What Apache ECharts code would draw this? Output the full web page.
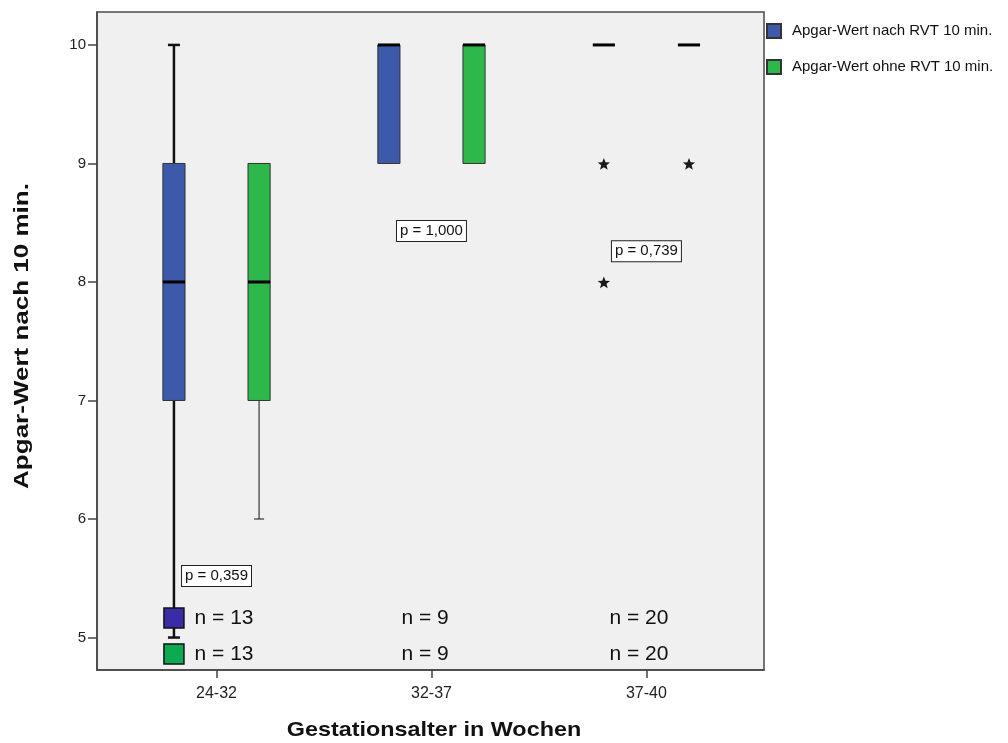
<!DOCTYPE html>
<html>
<head>
<meta charset="utf-8">
<script src="https://cdn.jsdelivr.net/npm/echarts@6/dist/echarts.min.js"></script>
<style>
  html, body { margin: 0; padding: 0; background: #ffffff; }
  #chart { width: 1008px; height: 743px; }
</style>
</head>
<body>
<div id="chart"></div>
<script>
// Gestational age groups
const categories = ['24-32', '32-37', '37-40'];

// Box statistics per group: [min, Q1, median, Q3, max]
const nachStats = [
  [5, 7, 8, 9, 10],
  [9, 9, 10, 10, 10],
  [10, 10, 10, 10, 10]
];
const ohneStats = [
  [6, 7, 8, 9, 9],
  [9, 9, 10, 10, 10],
  [10, 10, 10, 10, 10]
];

// Extreme values (group index, value)
const nachExtremes = [[2, 9], [2, 8]];
const ohneExtremes = [[2, 9]];

// Sample sizes per group and test results
const nCounts = [13, 9, 20];
const pTexts = ['p = 0,359', 'p = 1,000', 'p = 0,739'];

const seriesNames = ['Apgar-Wert nach RVT 10 min.', 'Apgar-Wert ohne RVT 10 min.'];
const yTicks = [5, 6, 7, 8, 9, 10];
const xTitle = 'Gestationsalter in Wochen';
const yTitle = 'Apgar-Wert nach 10 min.';

// ---- layout / style ----
const FONT = "'Liberation Sans', Arial, Helvetica, sans-serif";
const BLUE = '#3D59A9';
const GREEN = '#2EB84B';
const OFFSET = 0.198;      // half distance between paired boxes (axis units)
const BOX_W = 0.103;       // box width (axis units)
const P_LEVEL = [5.52, 8.43, 8.26];       // vertical anchor of the p boxes
const N_ROWS = [5.165, 4.862];            // vertical anchor of the two n rows
const N_SHIFT = [-22, -30, -37];          // px shift of n text start from group centre

function boxRenderer(offset, color, whiskerWidth, capHalf) {
  return function (params, api) {
    const c = api.value(0) + offset;
    const mn = api.value(1), q1 = api.value(2), med = api.value(3), q3 = api.value(4), mx = api.value(5);
    const half = api.size([BOX_W, 0])[0] / 2;
    const x = api.coord([c, med])[0];
    const y = v => api.coord([c, v])[1];
    const kids = [];
    const wStyle = { stroke: '#111', lineWidth: whiskerWidth };
    if (mx > q3) {
      kids.push({ type: 'line', shape: { x1: x, y1: y(q3), x2: x, y2: y(mx) }, style: wStyle });
      kids.push({ type: 'line', shape: { x1: x - capHalf, y1: y(mx), x2: x + capHalf, y2: y(mx) }, style: wStyle });
    }
    if (mn < q1) {
      kids.push({ type: 'line', shape: { x1: x, y1: y(q1), x2: x, y2: y(mn) }, style: wStyle });
      kids.push({ type: 'line', shape: { x1: x - capHalf, y1: y(mn), x2: x + capHalf, y2: y(mn) }, style: wStyle });
    }
    if (q3 > q1) {
      kids.push({
        type: 'rect',
        shape: { x: x - half, y: y(q3), width: half * 2, height: y(q1) - y(q3) },
        style: { fill: color, stroke: '#333', lineWidth: 1 }
      });
    }
    kids.push({
      type: 'line',
      shape: { x1: x - half, y1: y(med), x2: x + half, y2: y(med) },
      style: { stroke: '#000', lineWidth: 3 }
    });
    return { type: 'group', children: kids };
  };
}

function starPoints(cx, cy, ro, ri) {
  const pts = [];
  for (let k = 0; k < 10; k++) {
    const r = k % 2 === 0 ? ro : ri;
    const a = -Math.PI / 2 + k * Math.PI / 5;
    pts.push([cx + r * Math.cos(a), cy + r * Math.sin(a)]);
  }
  return pts;
}

function extremeRenderer(offset) {
  return function (params, api) {
    const p = api.coord([api.value(0) + offset, api.value(1)]);
    return {
      type: 'polygon',
      shape: { points: starPoints(p[0], p[1] + 1, 6.5, 2.8) },
      style: { fill: '#1a1a1a' }
    };
  };
}

const chart = echarts.init(document.getElementById('chart'), null, { renderer: 'canvas' });

const option = {
  backgroundColor: '#ffffff',
  animation: false,
  textStyle: { fontFamily: FONT },
  grid: {
    left: 97, top: 12, width: 667, height: 658,
    containLabel: false, outerBoundsMode: 'none',
    show: true, backgroundColor: '#F0F0F0', borderColor: '#4a4a4a', borderWidth: 1.5
  },
  legend: {
    orient: 'vertical',
    left: 766, top: 23, padding: 0,
    itemWidth: 14, itemHeight: 14, itemGap: 20,
    icon: 'rect',
    data: seriesNames,
    textStyle: { fontSize: 15, color: '#111', fontFamily: FONT, padding: [0, 0, 4, 6] },
    selectedMode: false
  },
  // axis titles, stretched along their reading direction
  graphic: [
    {
      type: 'text', x: 434, y: 730, scaleX: 1.14,
      style: { text: xTitle, fontSize: 20.5, fontWeight: 'bold', fill: '#111', fontFamily: FONT, align: 'center', verticalAlign: 'middle' }
    },
    {
      type: 'text', x: 22, y: 336, rotation: Math.PI / 2, scaleX: 1.3,
      style: { text: yTitle, fontSize: 20, fontWeight: 'bold', fill: '#111', fontFamily: FONT, align: 'center', verticalAlign: 'middle' }
    }
  ],
  xAxis: {
    type: 'value',
    min: -0.556, max: 2.547,
    axisLine: { show: true, onZero: false, lineStyle: { color: '#444', width: 1.5 } },
    axisTick: { show: true, customValues: [0, 1, 2], length: 8, lineStyle: { color: '#444', width: 1.5 } },
    axisLabel: {
      customValues: [0, 1, 2],
      formatter: v => categories[Math.round(v)],
      fontSize: 16, color: '#222', margin: 16, fontFamily: FONT
    },
    splitLine: { show: false }
  },
  yAxis: {
    type: 'value',
    min: 4.726, max: 10.278,
    axisLine: { show: true, onZero: false, lineStyle: { color: '#444', width: 1.5 } },
    axisTick: { show: true, customValues: yTicks, length: 9, lineStyle: { color: '#444', width: 1.5 } },
    axisLabel: { customValues: yTicks, fontSize: 15, color: '#222', margin: 11, fontFamily: FONT },
    splitLine: { show: false }
  },
  series: [
    {
      name: seriesNames[0],
      type: 'custom',
      itemStyle: { color: BLUE, borderColor: '#333', borderWidth: 1 },
      renderItem: boxRenderer(-OFFSET, BLUE, 2.5, 6),
      data: nachStats.map((s, i) => [i].concat(s))
    },
    {
      name: seriesNames[1],
      type: 'custom',
      itemStyle: { color: GREEN, borderColor: '#333', borderWidth: 1 },
      renderItem: boxRenderer(OFFSET, GREEN, 1, 5),
      data: ohneStats.map((s, i) => [i].concat(s))
    },
    {
      type: 'custom',
      renderItem: extremeRenderer(-OFFSET),
      data: nachExtremes
    },
    {
      type: 'custom',
      renderItem: extremeRenderer(OFFSET),
      data: ohneExtremes
    },
    {
      // p-value annotation boxes
      type: 'custom',
      renderItem: function (params, api) {
        const i = params.dataIndex;
        const p = api.coord([api.value(0), P_LEVEL[i]]);
        return {
          type: 'text',
          x: p[0], y: p[1],
          style: {
            text: pTexts[i],
            fontSize: 15, fontFamily: FONT, fill: '#111',
            align: 'center', verticalAlign: 'middle',
            backgroundColor: '#ffffff', borderColor: '#222', borderWidth: 1,
            padding: [3, 3, 2, 3]
          }
        };
      },
      data: pTexts.map((t, i) => [i])
    },
    {
      // group sizes, two rows (one per series)
      type: 'custom',
      renderItem: function (params, api) {
        const i = params.dataIndex;
        const n = api.value(1);
        const kids = [];
        N_ROWS.forEach((lvl, r) => {
          const p = api.coord([api.value(0), lvl]);
          kids.push({
            type: 'text',
            x: p[0] + N_SHIFT[i], y: p[1],
            style: {
              text: 'n = ' + n, fontSize: 21, fontFamily: FONT, fill: '#111',
              align: 'left', verticalAlign: 'middle'
            }
          });
          if (i === 0) {
            const m = api.coord([api.value(0) - OFFSET, lvl]);
            kids.push({
              type: 'rect',
              shape: { x: m[0] - 10, y: m[1] - 10, width: 20, height: 20 },
              style: { fill: r === 0 ? '#3A2CA6' : '#0EAA52', stroke: '#111', lineWidth: 1.5 }
            });
          }
        });
        return { type: 'group', children: kids };
      },
      data: nCounts.map((n, i) => [i, n])
    }
  ]
};

chart.setOption(option);
</script>
</body>
</html>
